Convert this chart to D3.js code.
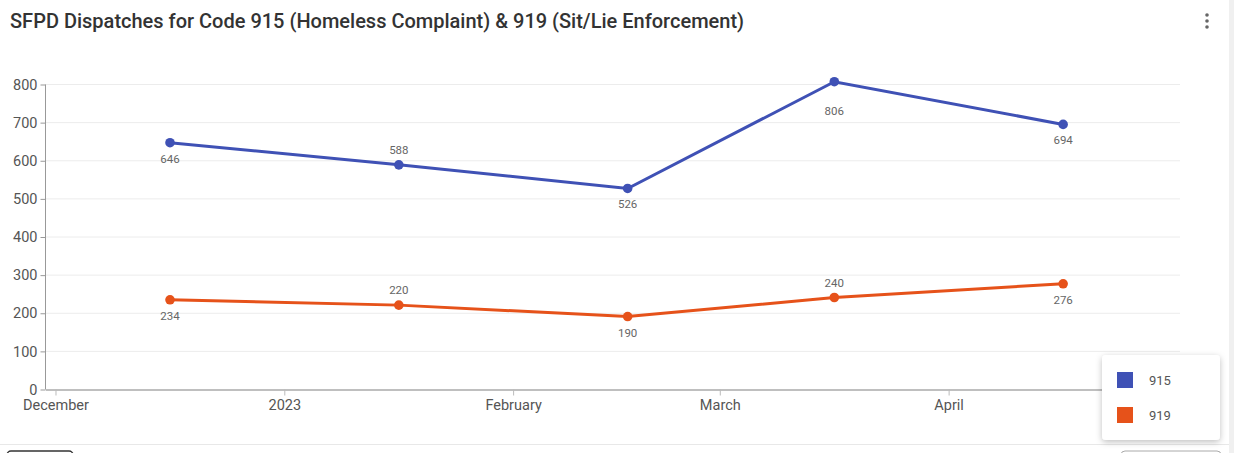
<!DOCTYPE html>
<html>
<head>
<meta charset="utf-8">
<script src="https://cdn.jsdelivr.net/npm/d3@7"></script>
<style>
	body { margin: 0; background: #fff; font-family: Roboto, "Noto Sans", sans-serif; }
	svg { display: block; }
</style>
</head>
<body>
<script>
(function () {
	"use strict";

	var w = 1234;
	var h = 453;

	// data
	var title = "SFPD Dispatches for Code 915 (Homeless Complaint) & 919 (Sit/Lie Enforcement)";
	var dates = ["2022-12-16T14:00", "2023-01-16T14:00", "2023-02-16T14:00", "2023-03-16T14:00", "2023-04-16T14:00"];
	var seriesNames = ["915", "919"];
	var values915 = [646, 588, 526, 806, 694];
	var values919 = [234, 220, 190, 240, 276];
	// which side of the point the value label sits
	var labelSide915 = ["below", "above", "below", "farBelow", "below"];
	var labelSide919 = ["below", "above", "below", "above", "below"];
	var yTicks = [0, 100, 200, 300, 400, 500, 600, 700, 800];
	var xTickDates = ["2022-12-01", "2023-01-01", "2023-02-01", "2023-03-01", "2023-04-01"];
	var xTickLabels = ["December", "2023", "February", "March", "April"];
	var colors = ["#3f51b5", "#e6521a"];

	var parseTime = d3.timeParse("%Y-%m-%dT%H:%M");
	var parseDay = d3.timeParse("%Y-%m-%d");

	var series = [
		{ name: seriesNames[0], color: colors[0], side: labelSide915,
			points: dates.map(function (d, i) { return { date: parseTime(d), value: values915[i] }; }) },
		{ name: seriesNames[1], color: colors[1], side: labelSide919,
			points: dates.map(function (d, i) { return { date: parseTime(d), value: values919[i] }; }) }
	];

	var labelOffset = { above: -11, below: 20, farBelow: 33 };

	var svg = d3.select("body")
		.append("svg")
		.attr("width", w)
		.attr("height", h);

	// shadow filter for the legend card
	var defs = svg.append("defs");
	var f = defs.append("filter").attr("id", "shadow")
		.attr("x", "-20%").attr("y", "-20%").attr("width", "140%").attr("height", "150%");
	f.append("feDropShadow").attr("dx", 0).attr("dy", 2).attr("stdDeviation", 3)
		.attr("flood-color", "#000").attr("flood-opacity", 0.25);

	// card edges
	svg.append("rect").attr("x", 1229).attr("y", 0).attr("width", 5).attr("height", h).attr("fill", "#f0f0f0");
	svg.append("line").attr("x1", 0).attr("x2", 1229).attr("y1", 444.5).attr("y2", 444.5)
		.attr("stroke", "#e8e8e8");
	svg.append("rect").attr("x", 7).attr("y", 451).attr("width", 66).attr("height", 12).attr("rx", 4)
		.attr("fill", "#fff").attr("stroke", "#333").attr("stroke-width", 1.5);
	svg.append("rect").attr("x", 1121).attr("y", 451).attr("width", 100).attr("height", 12).attr("rx", 4)
		.attr("fill", "#fff").attr("stroke", "#aaa");

	// title
	svg.append("text")
		.attr("x", 10).attr("y", 28)
		.attr("font-size", 20).attr("font-weight", 500).attr("fill", "#333")
		.text(title);

	// kebab menu
	svg.selectAll("circle.menu").data([15, 21, 27]).enter()
		.append("circle").attr("class", "menu")
		.attr("cx", 1207).attr("cy", function (d) { return d; }).attr("r", 1.8).attr("fill", "#666");

	// scales
	var xScale = d3.scaleTime()
		.domain([parseTime("2022-11-29T15:30"), parseTime("2023-05-02T10:00")])
		.range([45, 1180]);

	var yScale = d3.scaleLinear()
		.domain([0, 800])
		.range([389, 84]);

	// grid
	svg.append("g")
		.selectAll("line").data(yTicks.slice(1)).enter()
		.append("line")
		.attr("x1", 45).attr("x2", 1180)
		.attr("y1", function (d) { return yScale(d) + 0.5; })
		.attr("y2", function (d) { return yScale(d) + 0.5; })
		.attr("stroke", "#ececec");

	// axes
	var yAxisGen = d3.axisLeft(yScale)
		.tickValues(yTicks)
		.tickSize(5)
		.tickPadding(3);

	var yAxis = svg.append("g")
		.attr("transform", "translate(45.5, 0.5)")
		.call(yAxisGen);
	yAxis.select(".domain").attr("stroke", "#999").attr("d", "M0," + yScale(800) + "V" + yScale(0));
	yAxis.selectAll(".tick line").attr("stroke", "#999");
	yAxis.selectAll("text").attr("font-size", 14.5).attr("fill", "#555").attr("font-family", "Roboto, sans-serif");

	var xAxisGen = d3.axisBottom(xScale)
		.tickValues(xTickDates.map(parseDay))
		.tickFormat(function (d, i) { return xTickLabels[i]; })
		.tickSize(6)
		.tickSizeOuter(0)
		.tickPadding(4);

	var xAxis = svg.append("g")
		.attr("transform", "translate(0.5, 389.5)")
		.call(xAxisGen);
	xAxis.select(".domain").attr("stroke", "#aaa").attr("stroke-width", 1.5);
	xAxis.selectAll(".tick line").attr("stroke", "#bbb");
	xAxis.selectAll("text").attr("font-size", 14.5).attr("fill", "#555").attr("font-family", "Roboto, sans-serif");

	// lines
	var lineFun = d3.line()
		.x(function (d) { return xScale(d.date); })
		.y(function (d) { return yScale(d.value); });

	series.forEach(function (s) {
		var g = svg.append("g");
		g.append("path")
			.attr("d", lineFun(s.points))
			.attr("fill", "none")
			.attr("stroke", s.color)
			.attr("stroke-width", 3);

		g.selectAll("circle").data(s.points).enter()
			.append("circle")
			.attr("cx", function (d) { return xScale(d.date); })
			.attr("cy", function (d) { return yScale(d.value); })
			.attr("r", 4.8)
			.attr("fill", s.color);

		g.selectAll("text").data(s.points).enter()
			.append("text")
			.attr("x", function (d) { return xScale(d.date); })
			.attr("y", function (d, i) { return yScale(d.value) + labelOffset[s.side[i]]; })
			.attr("text-anchor", "middle")
			.attr("font-size", 11.5)
			.attr("fill", "#666")
			.text(function (d) { return d.value; });
	});

	// legend card
	var legend = svg.append("g").attr("transform", "translate(1102, 355)");
	legend.append("rect")
		.attr("width", 118).attr("height", 85).attr("rx", 4)
		.attr("fill", "#fff")
		.attr("filter", "url(#shadow)");

	var items = legend.selectAll("g.item").data(series).enter()
		.append("g").attr("class", "item")
		.attr("transform", function (d, i) { return "translate(15," + (17 + i * 35) + ")"; });
	items.append("rect").attr("width", 16).attr("height", 16)
		.attr("fill", function (d) { return d.color; });
	items.append("text").attr("x", 32).attr("y", 13)
		.attr("font-size", 13).attr("fill", "#555")
		.text(function (d) { return d.name; });
})();
</script>
</body>
</html>
